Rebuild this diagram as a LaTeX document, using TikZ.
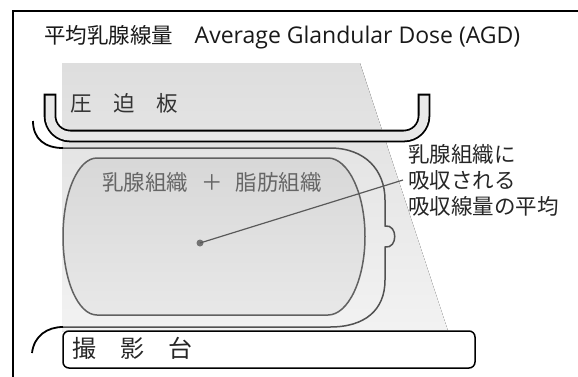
\documentclass[tikz,border=0pt]{standalone}
\usepackage{fontspec}
\newfontfamily\jp{Noto Sans CJK JP}
\newfontfamily\lat{Open Sans}
\usetikzlibrary{positioning}

\begin{document}
\begin{tikzpicture}[x=1pt,y=-1pt,
  every node/.style={inner sep=0pt,font=\jp\fontsize{21.5}{26}\selectfont},
  beam/.style={top color=gray!26,bottom color=gray!10},
  skinline/.style={draw=black!68,line width=1.5pt},
  bodyline/.style={draw=black,line width=1.8pt},
  gland/.style={draw=black!62,line width=1.5pt,top color=gray!31,bottom color=gray!18},
  paddle/.style={line width=1.8pt,double=gray!18,double distance=9pt,line cap=rect,rounded corners=20pt},
  tablebox/.style={draw=black,line width=1.5pt,fill=white,rounded corners=6pt},
  pointer/.style={draw=black!65,line width=1.2pt}]
 \useasboundingbox (0,0) rectangle (578,376);
 \clip (0,0) rectangle (578,376);
 % x-ray field
 \fill[beam] (62,63) -- (360,63) -- (448,331) -- (62,331) -- cycle;
 % breast
 \draw[skinline] (63,148) -- (330,148) .. controls (365,148) and (385,170) .. (385,200) -- (385,226)
   .. controls (398,224) and (398,249) .. (385,247) -- (385,280)
   .. controls (385,310) and (365,327) .. (330,327) -- (63,327);
 \draw[bodyline] (33,121) .. controls (33,139) and (45,148) .. (63,148);
 \draw[bodyline] (32,353) .. controls (34,336) and (47,327) .. (63,327);
 \draw[gland] (97,158) -- (328,158) .. controls (348,158) and (365,193) .. (365,236.5)
   .. controls (365,280) and (348,315) .. (328,315) -- (97,315)
   .. controls (78,315) and (63,280) .. (63,236.5) .. controls (63,193) and (78,158) .. (97,158) -- cycle;
 % paddle and table
 \draw[paddle] (50,100) |- (424,136) -- (424,100);
 \draw[tablebox] (63,331) rectangle (475,368);
 % labels
 \node[anchor=west,text=black!90] (title) at (44,37) {平均乳腺線量　{\lat\fontsize{23}{26}\selectfont Average Glandular Dose (AGD)}};
 \node[anchor=west,text=black!80] (paddlelabel) at (70,103) {圧　迫　板};
 \node[anchor=west,text=black!85,font=\jp\fontsize{24}{28}\selectfont] (tablelabel) at (72,348) {撮　影　台};
 \node[anchor=west,text=black!60] (glandlabel) at (102,182) {乳腺組織\hspace{0.6em}＋\hspace{0.6em}脂肪組織};
 \node[circle,fill=black!55,minimum size=7pt] (avg) at (200,243) {};
 \node[anchor=west,align=left,inner xsep=5pt,text=black!85] (note) at (403,180) {乳腺組織に\\吸収される\\吸収線量の平均};
 \draw[pointer] (avg.center) -- (note.west);
 % frame
 \draw[line width=1.5pt] (13,380) -- (13,11) -- (582,11);
\end{tikzpicture}
\end{document}
